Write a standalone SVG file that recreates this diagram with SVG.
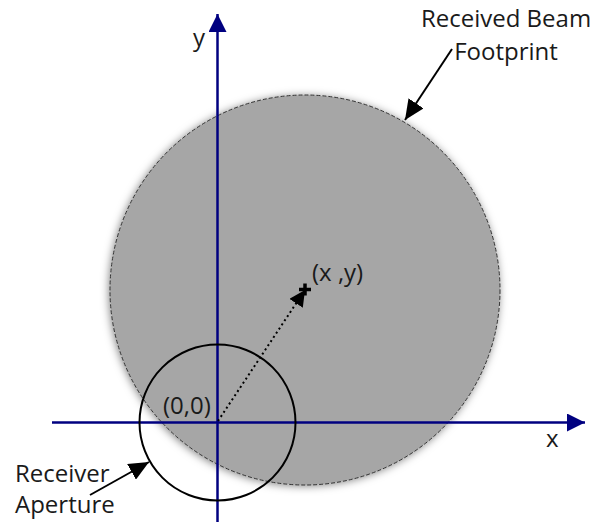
<svg xmlns="http://www.w3.org/2000/svg" width="594" height="525" viewBox="0 0 594 525">
<style>
text { font-family: "Open Sans", "DejaVu Sans", sans-serif; font-size: 24px; fill: #1a1a1a; }
.axis { stroke: #000080; stroke-width: 2.5; fill: none; }
.lead { stroke: #000; stroke-width: 2; fill: none; }
</style>
<defs>
<filter id="sh" x="-10%" y="-10%" width="120%" height="120%">
<feDropShadow dx="-1" dy="1" stdDeviation="4" flood-color="#000" flood-opacity="0.5"/>
</filter>
<marker id="navyHead" viewBox="0 0 18 18" refX="18" refY="9" markerWidth="18" markerHeight="18" markerUnits="userSpaceOnUse" orient="auto">
<path d="M0,0 L18,9 L0,18 Z" fill="#000080"/>
</marker>
<marker id="leadHead" viewBox="0 0 20 18" refX="20" refY="9" markerWidth="20" markerHeight="18" markerUnits="userSpaceOnUse" orient="auto">
<path d="M0,0 L20,9 L0,18 Z" fill="#000"/>
</marker>
<marker id="dotHead" viewBox="0 0 16 16" refX="16" refY="8" markerWidth="16" markerHeight="16" markerUnits="userSpaceOnUse" orient="auto">
<path d="M0,0 L16,8 L0,16 Z" fill="#000"/>
</marker>
</defs>
<g id="beam-footprint">
<circle cx="305" cy="290" r="195" fill="#a6a6a6" filter="url(#sh)"/>
<circle cx="305" cy="290" r="195" fill="none" stroke="#333" stroke-width="1" stroke-dasharray="4 2"/>
</g>
<g id="axes">
<line class="axis" x1="217.5" y1="522" x2="217.5" y2="14" marker-end="url(#navyHead)"/>
<line class="axis" x1="52" y1="422.5" x2="585" y2="422.5" marker-end="url(#navyHead)"/>
<text x="193" y="46">y</text>
<text x="546" y="447">x</text>
</g>
<g id="receiver-aperture">
<circle cx="217.5" cy="422.5" r="78" fill="none" stroke="#000" stroke-width="2"/>
</g>
<g id="point-xy">
<path d="M299,289.5 H311 M305,283.5 V295.5" stroke="#000" stroke-width="3.5"/>
<text x="312" y="281">(x ,y)</text>
</g>
<g id="origin">
<text x="163" y="414">(0,0)</text>
</g>
<g id="connectors">
<line x1="218" y1="421" x2="305" y2="290" stroke="#000" stroke-width="2" stroke-dasharray="2 3" marker-end="url(#dotHead)"/>
<line class="lead" x1="452" y1="49" x2="405" y2="120" marker-end="url(#leadHead)"/>
<line class="lead" x1="90" y1="495" x2="149" y2="462" marker-end="url(#leadHead)"/>
</g>
<g id="labels">
<text x="506" y="27" text-anchor="middle">Received Beam</text>
<text x="506" y="60" text-anchor="middle">Footprint</text>
<text x="15" y="482">Receiver</text>
<text x="15" y="513">Aperture</text>
</g>
</svg>
